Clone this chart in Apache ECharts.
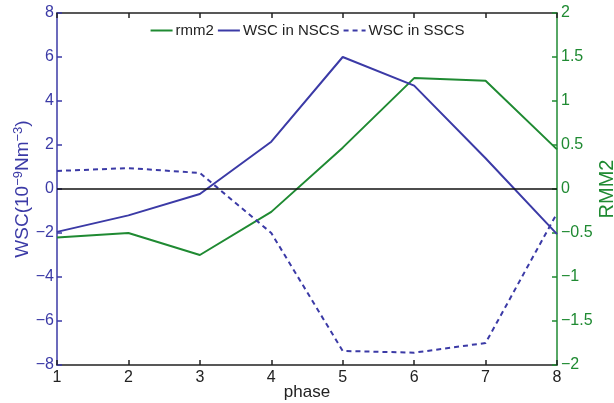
<!DOCTYPE html>
<html>
<head>
<meta charset="utf-8">
<script src="https://cdn.jsdelivr.net/npm/echarts@6/dist/echarts.min.js"></script>
<style>
  html, body { margin: 0; padding: 0; background: #fff; }
  #chart { width: 614px; height: 403px; }
</style>
</head>
<body>
<div id="chart"></div>
<script>
// Phase composites of wind stress curl and the RMM2 index
const phases = [1, 2, 3, 4, 5, 6, 7, 8];
const rmm2 = [-0.55, -0.5, -0.75, -0.26, 0.47, 1.26, 1.23, 0.45];
const wscNSCS = [-1.95, -1.2, -0.23, 2.15, 6.0, 4.7, 1.4, -2.05];
const wscSSCS = [0.82, 0.95, 0.73, -2.0, -7.36, -7.44, -7.0, -1.1];
const leftTicks = [-8, -6, -4, -2, 0, 2, 4, 6, 8];
const rightTicks = [-2, -1.5, -1, -0.5, 0, 0.5, 1, 1.5, 2];

const BLUE = '#3b3aa6';
const GREEN = '#1f8a32';
const FONT = 'Liberation Sans';

const pairs = vals => phases.map((p, i) => [p, vals[i]]);
const minus = v => (v < 0 ? '−' + Math.abs(v) : String(v));

const chart = echarts.init(document.getElementById('chart'), null, { renderer: 'canvas' });

chart.setOption({
  animation: false,
  textStyle: { fontFamily: FONT },
  grid: { left: 57, right: 57, top: 13, bottom: 38, containLabel: false, outerBoundsMode: 'none' },
  legend: {
    top: 18,
    left: 'center',
    itemWidth: 22,
    itemHeight: 10,
    itemGap: 3,
    itemStyle: { opacity: 0 },
    textStyle: { fontFamily: FONT, fontSize: 15, color: '#222', padding: [0, 0, 0, -2] },
    data: ['rmm2', 'WSC in NSCS', 'WSC in SSCS']
  },
  xAxis: [
    {
      type: 'value', min: 1, max: 8, interval: 1,
      position: 'bottom',
      name: 'phase', nameLocation: 'middle', nameGap: 19, nameMoveOverlap: false,
      nameTextStyle: { fontFamily: FONT, fontSize: 17, color: '#222' },
      axisLine: { onZero: false, lineStyle: { color: '#222', width: 1.5 } },
      axisTick: { show: true, inside: true, length: 5, lineStyle: { color: '#222', width: 1.5 } },
      axisLabel: { fontFamily: FONT, fontSize: 16, color: '#222', margin: 5 },
      splitLine: { show: false }
    },
    {
      type: 'value', min: 1, max: 8, interval: 1,
      position: 'top',
      axisLine: { onZero: false, lineStyle: { color: '#222', width: 1.5 } },
      axisTick: { show: true, inside: true, length: 5, lineStyle: { color: '#222', width: 1.5 } },
      axisLabel: { show: false },
      splitLine: { show: false }
    }
  ],
  yAxis: [
    {
      type: 'value', min: leftTicks[0], max: leftTicks[leftTicks.length - 1], interval: 2,
      position: 'left',
      name: '{a|WSC(10}{s|−9}{a|Nm}{s|−3}{a|)}',
      nameLocation: 'middle', nameGap: 23, nameRotate: 90, nameMoveOverlap: false,
      nameTextStyle: {
        color: BLUE,
        rich: {
          a: { fontFamily: FONT, fontSize: 19, color: BLUE, lineHeight: 22 },
          s: { fontFamily: FONT, fontSize: 13, color: BLUE, lineHeight: 22, padding: [0, 0, 9, 0] }
        }
      },
      axisLine: { show: true, onZero: false, lineStyle: { color: BLUE, width: 1.5 } },
      axisTick: { show: true, inside: true, length: 5, lineStyle: { color: BLUE, width: 1.5 } },
      axisLabel: { fontFamily: FONT, fontSize: 16, color: BLUE, margin: 3, formatter: minus },
      splitLine: { show: false }
    },
    {
      type: 'value', min: rightTicks[0], max: rightTicks[rightTicks.length - 1], interval: 0.5,
      position: 'right',
      name: 'RMM2',
      nameLocation: 'middle', nameGap: 40, nameRotate: 90, nameMoveOverlap: false,
      nameTextStyle: { fontFamily: FONT, fontSize: 20, color: GREEN },
      axisLine: { show: true, onZero: false, lineStyle: { color: GREEN, width: 1.5 } },
      axisTick: { show: true, inside: true, length: 5, lineStyle: { color: GREEN, width: 1.5 } },
      axisLabel: { fontFamily: FONT, fontSize: 16, color: GREEN, margin: 4, formatter: minus },
      splitLine: { show: false }
    }
  ],
  series: [
    {
      name: 'rmm2', type: 'line', yAxisIndex: 1, xAxisIndex: 0,
      symbol: 'none', data: pairs(rmm2),
      lineStyle: { color: GREEN, width: 2 }, itemStyle: { color: GREEN }
    },
    {
      name: 'WSC in NSCS', type: 'line', yAxisIndex: 0, xAxisIndex: 0,
      symbol: 'none', data: pairs(wscNSCS),
      lineStyle: { color: BLUE, width: 2 }, itemStyle: { color: BLUE },
      markLine: {
        silent: true, symbol: 'none', label: { show: false },
        lineStyle: { color: '#111', width: 1.5, type: 'solid' },
        data: [{ yAxis: 0 }]
      }
    },
    {
      name: 'WSC in SSCS', type: 'line', yAxisIndex: 0, xAxisIndex: 0,
      symbol: 'none', data: pairs(wscSSCS),
      lineStyle: { color: BLUE, width: 2, type: [5, 4] }, itemStyle: { color: BLUE }
    }
  ]
});
</script>
</body>
</html>
